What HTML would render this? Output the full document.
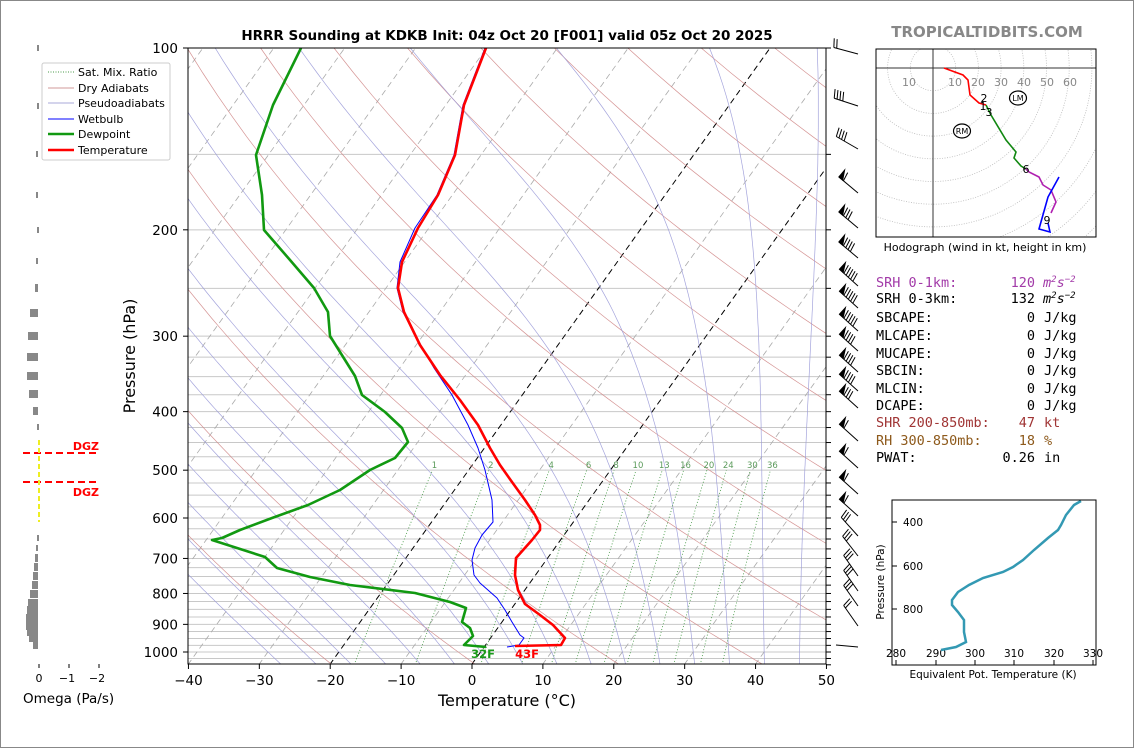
<!DOCTYPE html>
<html><head><meta charset="utf-8">
<style>
html,body{margin:0;padding:0;background:#fff;}
svg{display:block;font-family:"DejaVu Sans","Liberation Sans",sans-serif;}
.mono text{font-family:"DejaVu Sans Mono","Liberation Mono",monospace;font-size:13.5px;}
</style></head>
<body>
<svg id="s" width="1134" height="748" viewBox="0 0 1134 748" xmlns="http://www.w3.org/2000/svg">
<rect x="0.5" y="0.5" width="1133" height="747" fill="#fff" stroke="#888"/>
<defs><clipPath id="pc"><rect x="188" y="48" width="638" height="616"/></clipPath>
<clipPath id="hc"><rect x="876" y="49" width="220" height="188"/></clipPath></defs>
<g id="bg" clip-path="url(#pc)"></g>
<g id="fg" clip-path="url(#pc)"></g>
<rect x="188" y="48" width="638" height="616" fill="none" stroke="#000" stroke-width="1"/>
<g id="ax" font-size="13.5"></g>
<text x="507" y="40" font-size="13.5" font-weight="bold" text-anchor="middle">HRRR Sounding at KDKB Init: 04z Oct 20 [F001] valid 05z Oct 20 2025</text>
<text x="507" y="706" font-size="16" text-anchor="middle">Temperature (°C)</text>
<text transform="translate(135,356) rotate(-90)" font-size="16" text-anchor="middle">Pressure (hPa)</text>
<text x="483" y="658" font-size="11.5" font-weight="bold" fill="#1a9a1a" text-anchor="middle">32F</text>
<text x="527" y="658" font-size="11.5" font-weight="bold" fill="#ff0000" text-anchor="middle">43F</text>
<!-- legend -->
<g font-size="11">
<rect x="42" y="63" width="128" height="97" fill="#fff" stroke="#ccc" rx="2"/>
<line x1="48" y1="72" x2="74" y2="72" stroke="#4a9a4a" stroke-dasharray="1,1.5"/><text x="78" y="76">Sat. Mix. Ratio</text>
<line x1="48" y1="88" x2="74" y2="88" stroke="#d09a9a"/><text x="78" y="92">Dry Adiabats</text>
<line x1="48" y1="103" x2="74" y2="103" stroke="#a8a8d8"/><text x="78" y="107">Pseudoadiabats</text>
<line x1="48" y1="119" x2="74" y2="119" stroke="#0000ff"/><text x="78" y="123">Wetbulb</text>
<line x1="48" y1="134" x2="74" y2="134" stroke="#119911" stroke-width="2.5"/><text x="78" y="138">Dewpoint</text>
<line x1="48" y1="150" x2="74" y2="150" stroke="#ff0000" stroke-width="2.5"/><text x="78" y="154">Temperature</text>
</g>
<!-- omega panel -->
<g id="om"></g>
<line x1="23" y1="453" x2="99" y2="453" stroke="#ff0000" stroke-width="2" stroke-dasharray="7,4"/>
<line x1="23" y1="482" x2="99" y2="482" stroke="#ff0000" stroke-width="2" stroke-dasharray="7,4"/>
<line x1="39" y1="440" x2="39" y2="522" stroke="#eeee22" stroke-width="2" stroke-dasharray="5,3"/>
<text x="99" y="450" font-size="11" font-weight="bold" fill="#ff0000" text-anchor="end">DGZ</text>
<text x="99" y="496" font-size="11" font-weight="bold" fill="#ff0000" text-anchor="end">DGZ</text>
<g font-size="11" text-anchor="middle"><line x1="39" y1="664" x2="39" y2="668" stroke="#000"/><line x1="69" y1="664" x2="69" y2="668" stroke="#000"/><line x1="99" y1="664" x2="99" y2="668" stroke="#000"/>
<text x="39" y="682">0</text><text x="67" y="682">−1</text><text x="97" y="682">−2</text></g>
<text x="23" y="703" font-size="13.5">Omega (Pa/s)</text>
<!-- barbs -->
<g id="barbs" stroke="#000" stroke-width="1" fill="#000"></g>
<!-- hodograph -->
<text x="987" y="37" font-size="15" font-weight="bold" fill="#888" text-anchor="middle">TROPICALTIDBITS.COM</text>
<g id="hodo" clip-path="url(#hc)"></g>
<rect x="876" y="49" width="220" height="188" fill="none" stroke="#000"/>
<text x="985" y="251" font-size="11" text-anchor="middle">Hodograph (wind in kt, height in km)</text>
<!-- text panel -->
<g class="mono">
<text x="876" y="287" fill="#a23aa8">SRH 0-1km:</text><text x="1035" y="287" fill="#a23aa8" text-anchor="end">120</text><text x="1043" y="287" fill="#a23aa8" font-style="italic">m<tspan dy="-5" font-size="9">2</tspan><tspan dy="5">s</tspan><tspan dy="-5" font-size="9">−2</tspan></text>
<text x="876" y="303">SRH 0-3km:</text><text x="1035" y="303" text-anchor="end">132</text><text x="1043" y="303" font-style="italic">m<tspan dy="-5" font-size="9">2</tspan><tspan dy="5">s</tspan><tspan dy="-5" font-size="9">−2</tspan></text>
<text x="876" y="322">SBCAPE:</text><text x="1035" y="322" text-anchor="end">0</text><text x="1044" y="322">J/kg</text>
<text x="876" y="340">MLCAPE:</text><text x="1035" y="340" text-anchor="end">0</text><text x="1044" y="340">J/kg</text>
<text x="876" y="358">MUCAPE:</text><text x="1035" y="358" text-anchor="end">0</text><text x="1044" y="358">J/kg</text>
<text x="876" y="375">SBCIN:</text><text x="1035" y="375" text-anchor="end">0</text><text x="1044" y="375">J/kg</text>
<text x="876" y="393">MLCIN:</text><text x="1035" y="393" text-anchor="end">0</text><text x="1044" y="393">J/kg</text>
<text x="876" y="410">DCAPE:</text><text x="1035" y="410" text-anchor="end">0</text><text x="1044" y="410">J/kg</text>
<text x="876" y="427" fill="#a03535">SHR 200-850mb:</text><text x="1035" y="427" fill="#a03535" text-anchor="end">47</text><text x="1044" y="427" fill="#a03535">kt</text>
<text x="876" y="445" fill="#8e5a1c">RH 300-850mb:</text><text x="1035" y="445" fill="#8e5a1c" text-anchor="end">18</text><text x="1044" y="445" fill="#8e5a1c">%</text>
<text x="876" y="462">PWAT:</text><text x="1035" y="462" text-anchor="end">0.26</text><text x="1044" y="462">in</text>
</g>
<!-- theta-e -->
<g id="te"></g>
<rect x="892" y="500" width="204" height="165" fill="none" stroke="#000"/>
<text transform="translate(884,582) rotate(-90)" font-size="10.5" text-anchor="middle">Pressure (hPa)</text>
<text x="993" y="678" font-size="10.5" text-anchor="middle">Equivalent Pot. Temperature (K)</text>
</svg>
<script>
const NS="http://www.w3.org/2000/svg";
function el(p,t,a){const e=document.createElementNS(NS,t);for(const k in a)e.setAttribute(k,a[k]);p.appendChild(e);return e;}
function Y(p){return 48+604*Math.log10(p/100);}
function X(T,p){return 472+7.089*T+0.714*(664-Y(p));}
const bg=document.getElementById('bg'),fg=document.getElementById('fg'),ax=document.getElementById('ax');
// isobars
const isob=[100,150,200,250];for(let p=300;p<=1050;p+=25)isob.push(p);
isob.forEach(p=>{const y=Y(p);el(bg,'line',{x1:188,y1:y,x2:826,y2:y,stroke:'#c8c8c8','stroke-width':1});});
// isotherms
for(let T=-160;T<=50;T+=10){const blk=(T==0||T==-20);el(bg,'line',{x1:X(T,1050),y1:Y(1050),x2:X(T,100),y2:Y(100),stroke:blk?'#000':'#aaa','stroke-width':blk?1:0.8,'stroke-dasharray':'6,4'});}
// dry adiabats
for(let th=230;th<=560;th+=20){let d='';for(let p=1050;p>=100;p-=10){const T=th*Math.pow(p/1000,0.2857)-273.15;d+=(d?'L':'M')+X(T,p).toFixed(1)+','+Y(p).toFixed(1);}el(bg,'path',{d:d,fill:'none',stroke:'#d08888','stroke-width':0.7,opacity:0.9});}
// moist adiabats
function es(T){return 6.112*Math.exp(17.67*T/(T+243.5));}
function dTdp(T,q){const rs=0.622*es(T-273.15)/(q-es(T-273.15));return (287*T+2.5e6*rs)/(q*(1004+2.5e6*2.5e6*rs*0.622/(287*T*T)));}
for(let T0=-30;T0<=45;T0+=5){let Tb=T0+273.15;for(let q=1000;q<1050;q+=5){Tb+=dTdp(Tb,q)*5;}
 let pts=[[Tb-273.15,1050]];let Tc=Tb;
 for(let q=1050;q>100;q-=5){Tc-=dTdp(Tc,q)*5;pts.push([Tc-273.15,q-5]);}
 let d='';pts.forEach(v=>{d+=(d?'L':'M')+X(v[0],v[1]).toFixed(1)+','+Y(v[1]).toFixed(1);});
 el(bg,'path',{d:d,fill:'none',stroke:'#9a9ad8','stroke-width':0.7,opacity:0.9});}
// mixing ratio
[1,2,4,6,8,10,13,16,20,24,30,36].forEach(w=>{let d='';for(let p=1050;p>=500;p-=10){const e=w/1000*p/(0.622+w/1000);const L=Math.log(e/6.112);const Td=243.5*L/(17.67-L);d+=(d?'L':'M')+X(Td,p).toFixed(1)+','+Y(p).toFixed(1);}
 el(bg,'path',{d:d,fill:'none',stroke:'#3f963f','stroke-width':0.8,'stroke-dasharray':'1,2'});
 const e=w/1000*500/(0.622+w/1000);const L=Math.log(e/6.112);const Td=243.5*L/(17.67-L);
 const t=el(bg,'text',{x:X(Td,500)+2,y:468,'font-size':8.5,fill:'#5a9a5a','text-anchor':'middle'});t.textContent=w;});
// profiles
function poly(pts,c,w){el(fg,'polyline',{points:pts.map(p=>p.join(',')).join(' '),fill:'none',stroke:c,'stroke-width':w,'stroke-linejoin':'round'});}
const temp=[[486,48],[464,105],[455,155],[438,195],[418,228],[402,262],[398,288],[404,312],[420,345],[440,375],[460,400],[478,425],[490,448],[500,465],[512,482],[525,500],[535,515],[540,525],[540,530],[532,540],[516,558],[515,575],[518,590],[525,604],[540,615],[553,625],[565,638],[561,645],[515,646]];
const wb=[[485,48],[463,105],[454,155],[437,195],[415,228],[400,262],[397,288],[403,312],[418,340],[434,368],[452,395],[468,425],[478,448],[485,470],[492,500],[493,522],[482,535],[475,548],[472,560],[474,575],[480,583],[497,598],[505,610],[512,622],[520,635],[524,638],[519,645],[507,647]];
const dew=[[301,48],[273,105],[256,155],[262,195],[264,230],[290,260],[314,288],[328,312],[330,336],[355,376],[362,395],[385,412],[402,428],[408,442],[395,458],[370,470],[340,490],[308,505],[272,518],[240,530],[222,538],[212,540],[265,557],[277,568],[310,577],[350,585],[415,593],[450,602],[466,608],[462,622],[470,628],[473,636],[464,645],[486,647]];
poly(wb,'#0000ff',1);poly(dew,'#119911',2.6);poly(temp,'#ff0000',2.6);
// axis labels
[100,200,300,400,500,600,700,800,900,1000].forEach(p=>{const y=Y(p);el(ax,'line',{x1:183,y1:y,x2:188,y2:y,stroke:'#000'});const t=el(ax,'text',{x:178,y:y+5,'text-anchor':'end'});t.textContent=p;});
isob.forEach(p=>{const y=Y(p);el(ax,'line',{x1:826,y1:y,x2:831,y2:y,stroke:'#000'});});
for(let T=-40;T<=50;T+=10){const x=472+7.089*T;el(ax,'line',{x1:x,y1:664,x2:x,y2:669,stroke:'#000'});const t=el(ax,'text',{x:x,y:685,'text-anchor':'middle'});t.textContent=T<0?'−'+(-T):T;}
// omega bars
const om=document.getElementById('om');
[[48,37],[106,37],[154,36],[195,36],[230,37],[261,36],[288,35],[313,30],[336,28],[357,27],[376,27],[394,29],[411,33],[427,37],[538,37],[548,36],[558,35],[567,34],[576,33],[585,32],[594,30],[603,28],[610,27],[618,26],[626,26],[632,27],[638,29],[645,33]].forEach(b=>{const h=(b[1]>=36)?6:8;el(om,'rect',{x:b[1],y:b[0]-h/2,width:Math.max(2,38-b[1]),height:h,fill:'#888'});});
// barbs
const bb=document.getElementById('barbs');
function barb(y,ang,nf,nb){const bx=858,by=y+6;const a=ang*Math.PI/180;const dx=-Math.cos(a),dy=-Math.sin(a);const L=25;const tx=bx+dx*L,ty=by+dy*L;
 el(bb,'line',{x1:bx,y1:by,x2:tx,y2:ty});
 const px=dy,py=-dx;const fl=9;let s=0;
 for(let i=0;i<nf;i++){const x0=tx-dx*s,y0=ty-dy*s;const x1=tx-dx*(s+5),y1=ty-dy*(s+5);
  el(bb,'polygon',{points:`${x0},${y0} ${x0-px*fl},${y0-py*fl} ${x1},${y1}`});s+=6;}
 for(let i=0;i<nb;i++){const x0=tx-dx*s,y0=ty-dy*s;el(bb,'line',{x1:x0,y1:y0,x2:x0-px*fl+dx*2,y2:y0-py*fl+dy*2});s+=3;}}
const B=[[48,15,0,2],[100,18,0,4],[143,30,0,4],[187,40,1,1],[222,40,1,3],[252,40,1,4],[280,42,1,5],[302,42,1,5],[325,42,1,5],[345,42,1,4],[366,42,1,4],[385,42,1,4],[402,42,1,3],[435,42,1,1],[462,42,1,1],[488,42,1,1],[510,42,1,1],[530,48,0,3],[550,52,0,3],[570,55,0,3],[585,55,0,3],[600,55,0,3],[620,55,0,2]];
B.forEach(b=>barb(b[0],b[1],b[2],b[3]));
el(bb,'line',{x1:836,y1:645,x2:858,y2:647});
// hodograph
const hd=document.getElementById('hodo');const ox=933,oy=68,sc=2.27;
for(let r=10;r<=120;r+=10)el(hd,'circle',{cx:ox,cy:oy,r:r*sc,fill:'none',stroke:'#bbb','stroke-width':0.8,'stroke-dasharray':'1,1.5'});
el(hd,'line',{x1:876,y1:oy,x2:1096,y2:oy,stroke:'#333'});el(hd,'line',{x1:ox,y1:49,x2:ox,y2:237,stroke:'#333'});
[[909,'10'],[955,'10'],[978,'20'],[1001,'30'],[1024,'40'],[1047,'50'],[1070,'60']].forEach(v=>{const t=el(hd,'text',{x:v[0],y:86,'font-size':11,fill:'#888','text-anchor':'middle'});t.textContent=v[1];});
function hp(pts,c){el(hd,'polyline',{points:pts.map(p=>p.join(',')).join(' '),fill:'none',stroke:c,'stroke-width':1.6});}
hp([[944,68],[963,75],[968,80],[970,95],[979,103],[986,105]],'#ff0000');
hp([[986,105],[991,115],[1006,140],[1016,152],[1014,158],[1021,166],[1026,169]],'#118811');
hp([[1026,169],[1029,172],[1039,177],[1043,185],[1051,190],[1056,202],[1051,213]],'#b020b0');
hp([[1059,177],[1048,197],[1039,229],[1050,232],[1048,223]],'#0000ff');
[[984,102,'2'],[983,110,'1'],[989,116,'3'],[1026,173,'6'],[1047,224,'9']].forEach(v=>{const t=el(hd,'text',{x:v[0],y:v[1],'font-size':11,'text-anchor':'middle'});t.textContent=v[2];});
[[1018,98,'LM'],[962,131,'RM']].forEach(v=>{el(hd,'ellipse',{cx:v[0],cy:v[1],rx:8.5,ry:7,fill:'#fff',stroke:'#000','stroke-width':1.2});const t=el(hd,'text',{x:v[0],y:v[1]+3,'font-size':8,'text-anchor':'middle'});t.textContent=v[2];});
// theta-e
const te=document.getElementById('te');
[[280,896],[290,936],[300,975],[310,1014],[320,1054],[330,1093]].forEach(v=>{el(te,'line',{x1:v[1],y1:665,x2:v[1],y2:660,stroke:'#000'});const t=el(te,'text',{x:v[1],y:657,'font-size':10.5,'text-anchor':'middle'});t.textContent=v[0];});
[[400,522],[600,566],[800,609]].forEach(v=>{el(te,'line',{x1:892,y1:v[1],x2:897,y2:v[1],stroke:'#000'});const t=el(te,'text',{x:923,y:v[1]+4,'font-size':10.5,'text-anchor':'end'});t.textContent=v[0];});
el(te,'polyline',{points:'1081,501 1074,505 1066,515 1061,525 1058,530 1048,538 1034,550 1023,560 1013,567 1003,572 983,578 969,585 958,592 952,600 952,605 958,612 964,620 964,632 966,642 956,647 941,650',fill:'none',stroke:'#3399b3','stroke-width':2.5});
</script>
</body></html>
